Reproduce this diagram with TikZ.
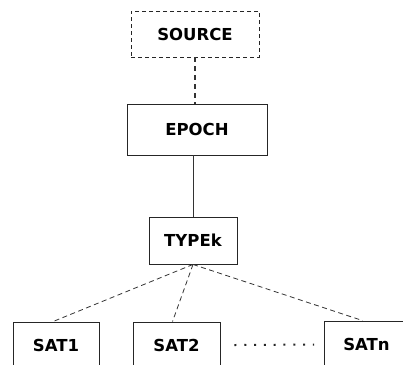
\documentclass[tikz,border=0pt]{standalone}
\usepackage{fontspec}
\setmainfont{DejaVu Sans}
\begin{document}
\begin{tikzpicture}[x=1pt,y=-1pt,
  box/.style={draw=black!85,line width=0.9pt,fill=white,inner sep=0pt,
    font=\fontsize{16.5}{19}\selectfont\bfseries},
  dbox/.style={box,dash pattern=on 4pt off 3pt},
  link/.style={draw=black!80,line width=0.8pt},
  dlink/.style={link,dash pattern=on 5pt off 3.5pt}]
\useasboundingbox (0,0) rectangle (403,364);
\clip (0,0) rectangle (403,364);
\node[dbox,minimum width=128pt,minimum height=46pt] (source) at (195,34) {SOURCE};
\node[box,minimum width=140pt,minimum height=51pt] (epoch) at (197,129.5) {EPOCH};
\node[box,minimum width=88pt,minimum height=47pt] (typek) at (193,240.5) {TYPEk};
\node[box,minimum width=86pt,minimum height=46pt] (sat1) at (56,345) {SAT1};
\node[box,minimum width=87pt,minimum height=46pt] (sat2) at (176.5,345) {SAT2};
\node[box,minimum width=84pt,minimum height=47pt] (satn) at (366.5,344.5) {SATn};
\draw[link,line width=1.3pt,dash pattern=on 5pt off 4pt] (source.south) -- (source.south |- epoch.north);
\draw[link] (epoch.south -| typek.north) -- (typek.north);
\draw[dlink] (typek.south) -- ([xshift=-3pt]sat1.north);
\draw[dlink] (typek.south) -- ([xshift=-4pt]sat2.north);
\draw[dlink] (typek.south) -- ([xshift=-4pt]satn.north);
\coordinate (d1) at ([xshift=14pt]sat2.east);
\coordinate (d2) at ([xshift=-10pt]satn.west);
\draw[line width=2pt,dash pattern=on 2pt off 7.8pt,black!85] (d1) -- (d2);
\end{tikzpicture}
\end{document}
